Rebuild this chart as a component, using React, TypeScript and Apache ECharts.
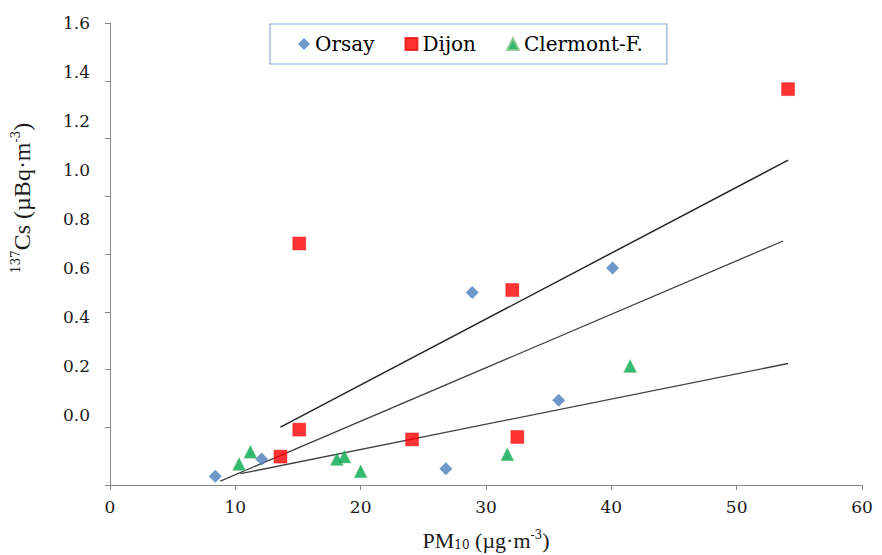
import React, { useEffect, useRef } from "react";
import * as echarts from "echarts";

const seriesNames = ["Orsay", "Dijon", "Clermont-F."];
const orsay: [number, number][] = [[8.4, -0.25], [12.1, -0.18], [26.8, -0.22], [28.9, 0.5], [35.8, 0.06], [40.1, 0.6]];
const dijon: [number, number][] = [[13.6, -0.17], [15.1, -0.06], [15.1, 0.7], [24.1, -0.1], [32.1, 0.51], [32.5, -0.09], [54.1, 1.33]];
const clermont: [number, number][] = [[10.3, -0.2], [11.2, -0.15], [18.1, -0.18], [18.7, -0.17], [20.0, -0.23], [31.7, -0.16], [41.5, 0.2]];
const trendA: [number, number][] = [[13.6, -0.05], [54.1, 1.04]];
const trendB: [number, number][] = [[8.8, -0.27], [53.7, 0.71]];
const trendC: [number, number][] = [[10.4, -0.24], [54.1, 0.21]];
const yTickLabels = [0, 0.2, 0.4, 0.6, 0.8, 1.0, 1.2, 1.4, 1.6];
const xTicks = { min: 0, max: 60, interval: 10 };

const FONT = "Liberation Serif";
const LFONT = "DejaVu Serif";
const AXIS = "#868686";
const TXT = "#1a1a1a";

export default function App() {
  const ref = useRef<HTMLDivElement>(null);
  useEffect(() => {
    if (!ref.current) return;
    const chart = echarts.init(ref.current, null, { renderer: "svg" });
    const scatterBase = { type: "scatter", yAxisIndex: 1, z: 3 };
    const lineBase = {
      type: "line",
      yAxisIndex: 1,
      showSymbol: false,
      symbol: "none",
      silent: true,
      z: 2,
    };
    chart.setOption({
      animation: false,
      backgroundColor: "#fff",
      textStyle: { fontFamily: LFONT },
      grid: { left: 110, right: 20, top: 23, bottom: 70, containLabel: false },
      legend: {
        data: [
          { name: seriesNames[0], icon: "diamond" },
          { name: seriesNames[1], icon: "rect" },
          { name: seriesNames[2], icon: "triangle" },
        ],
        left: 270,
        top: 24,
        padding: [10, 24, 10, 28],
        itemGap: 30,
        itemWidth: 12,
        itemHeight: 12,
        borderColor: "#8EAADB",
        borderWidth: 1.2,
        textStyle: { fontFamily: LFONT, fontSize: 20, color: "#000" },
      },
      xAxis: {
        type: "value",
        min: xTicks.min,
        max: xTicks.max,
        interval: xTicks.interval,
        axisLine: { show: true, lineStyle: { color: AXIS, width: 1 } },
        axisTick: { show: true, length: 5, lineStyle: { color: AXIS } },
        splitLine: { show: false },
        axisLabel: { fontFamily: LFONT, fontSize: 17, color: TXT, margin: 13 },
      },
      yAxis: [
        {
          type: "value",
          min: 0,
          max: 1.6,
          interval: 0.2,
          position: "left",
          axisLine: { show: true, lineStyle: { color: AXIS, width: 1 } },
          axisTick: { show: true, length: 5, lineStyle: { color: AXIS } },
          splitLine: { show: false },
          axisLabel: { show: false },
        },
        {
          type: "value",
          min: -0.286,
          max: 1.6,
          position: "left",
          axisLine: { show: false },
          axisTick: { show: false },
          splitLine: { show: false },
          axisLabel: {
            show: true,
            customValues: yTickLabels,
            formatter: (v: number) => v.toFixed(1),
            fontFamily: LFONT,
            fontSize: 17,
            color: TXT,
            margin: 20,
          },
        },
      ],
      graphic: [
        {
          type: "text",
          x: 22,
          y: 198,
          rotation: Math.PI / 2,
          style: {
            text: "{sup|137}Cs (µBq·m{sup|-3})",
            fontFamily: FONT,
            fontSize: 24,
            fill: TXT,
            align: "center",
            verticalAlign: "middle",
            rich: {
              sup: { fontFamily: LFONT, fontSize: 12, verticalAlign: "top", fill: TXT },
            },
          },
        },
        {
          type: "text",
          x: 486,
          y: 540,
          style: {
            text: "PM{sub|10} (µg·m{sup|-3})",
            fontFamily: FONT,
            fontSize: 22,
            fill: TXT,
            align: "center",
            verticalAlign: "middle",
            rich: {
              sub: { fontFamily: LFONT, fontSize: 12, verticalAlign: "bottom", fill: TXT },
              sup: { fontFamily: LFONT, fontSize: 12, verticalAlign: "top", fill: TXT },
            },
          },
        },
      ],
      series: [
        { ...lineBase, name: "trendA", data: trendA, lineStyle: { color: "#262626", width: 1.5 } },
        { ...lineBase, name: "trendB", data: trendB, lineStyle: { color: "#404040", width: 1.3 } },
        { ...lineBase, name: "trendC", data: trendC, lineStyle: { color: "#404040", width: 1.3 } },
        {
          ...scatterBase,
          name: seriesNames[0],
          symbol: "diamond",
          symbolSize: 13,
          data: orsay,
          itemStyle: { color: "#4A7EBB" },
        },
        {
          ...scatterBase,
          name: seriesNames[1],
          symbol: "rect",
          symbolSize: 13,
          data: dijon,
          itemStyle: { color: "#FF0000", borderColor: "#E81010", borderWidth: 0.5 },
        },
        {
          ...scatterBase,
          name: seriesNames[2],
          symbol: "triangle",
          symbolSize: 13,
          data: clermont,
          itemStyle: { color: "#00A84F", borderColor: "#8BC98B", borderWidth: 0.5 },
        },
      ],
    });
    return () => chart.dispose();
  }, []);
  return (
    <div
      ref={ref}
      style={{ position: "fixed", left: 0, top: 0, width: 882, height: 555 }}
    />
  );
}
